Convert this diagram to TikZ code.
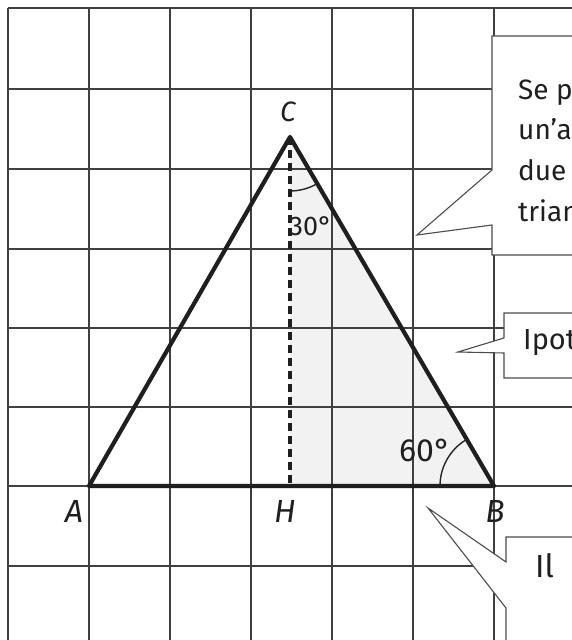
\documentclass[tikz,border=0pt]{standalone}
\usepackage{fontspec}
\setmainfont{Fira Sans}
\begin{document}
\begin{tikzpicture}[x=1pt,y=1pt,
  gridline/.style={line width=1.3pt, black!75},
  tri/.style={line width=4.2pt, black!88, line join=round, line cap=round},
  heightline/.style={line width=3.2pt, black!88, dash pattern=on 8pt off 5pt},
  anglearc/.style={line width=1.4pt, black!85},
  callout/.style={draw=black!70, line width=1.1pt, fill=white, line join=miter},
  lblbig/.style={font=\fontsize{32}{32}\selectfont\itshape, inner sep=0pt, text=black!88},
  lblsmall/.style={font=\fontsize{28}{28}\selectfont\itshape, inner sep=0pt, text=black!88},
  angtext/.style={inner sep=0pt, text=black!88},
  ctext/.style={inner sep=0pt, anchor=base west, text=black!88}]
\clip (0,0) rectangle (572,640);
\fill[white] (0,0) rectangle (572,640);
% points
\coordinate (A) at (89,154);
\coordinate (B) at (494,154);
\coordinate (C) at (290,503);
\coordinate (H) at (290,154);
% shaded right triangle
\fill[black!5] (H) -- (B) -- (C) -- cycle;
% grid
\foreach \x in {8,89,170,251,332,413,494}
  \draw[gridline] (\x,632) -- (\x,-10);
\foreach \y in {632,551,471,391,312,233,154,74}
  \draw[gridline] (8,\y) -- (580,\y);
% triangle
\draw[heightline] (C) -- (H);
\draw[tri] (A) -- (B) -- (C) -- cycle;
% angle arcs
\draw[anglearc] (C) ++(270:54) arc[start angle=270, end angle=300.3, radius=54pt];
\draw[anglearc] (B) ++(180:54) arc[start angle=180, end angle=120.3, radius=54pt];
% labels
\node[lblsmall] (lC) at (288,528) {C};
\node[lblbig] (lA) at (74,129) {A};
\node[lblbig] (lH) at (285,129) {H};
\node[lblbig] (lB) at (495,129) {B};
\node[angtext, font=\fontsize{27}{27}\selectfont] (a30) at (311,414) {30°};
\node[angtext, font=\fontsize{32}{32}\selectfont] (a60) at (425,190) {60°};
% callout 1
\coordinate (t1) at (417,405);
\draw[callout] (590,604) -- (492,604) -- (492,470) -- (t1) -- (492,415) -- (492,385) -- (590,385) -- cycle;
\node[ctext, font=\fontsize{28}{28}\selectfont] (s1) at (518,540) {Se p};
\node[ctext, font=\fontsize{28}{28}\selectfont] (s2) at (518,500) {un’a};
\node[ctext, font=\fontsize{28}{28}\selectfont] (s3) at (518,459) {due};
\node[ctext, font=\fontsize{28}{28}\selectfont] (s4) at (518,418) {trian};
% callout 2
\coordinate (t2) at (458,288);
\draw[callout] (590,327) -- (504,327) -- (504,302) -- (t2) -- (504,287) -- (504,262) -- (590,262) -- cycle;
\node[ctext, font=\fontsize{29}{29}\selectfont] (s5) at (523,290) {Ipot};
% callout 3
\coordinate (t3) at (428,132);
\draw[callout] (590,103) -- (506,103) -- (506,78) -- (t3) -- (506,32) -- (506,-20) -- (590,-20) -- cycle;
\node[ctext, font=\fontsize{32}{32}\selectfont] (s6) at (535,62) {Il};
\end{tikzpicture}
\end{document}
